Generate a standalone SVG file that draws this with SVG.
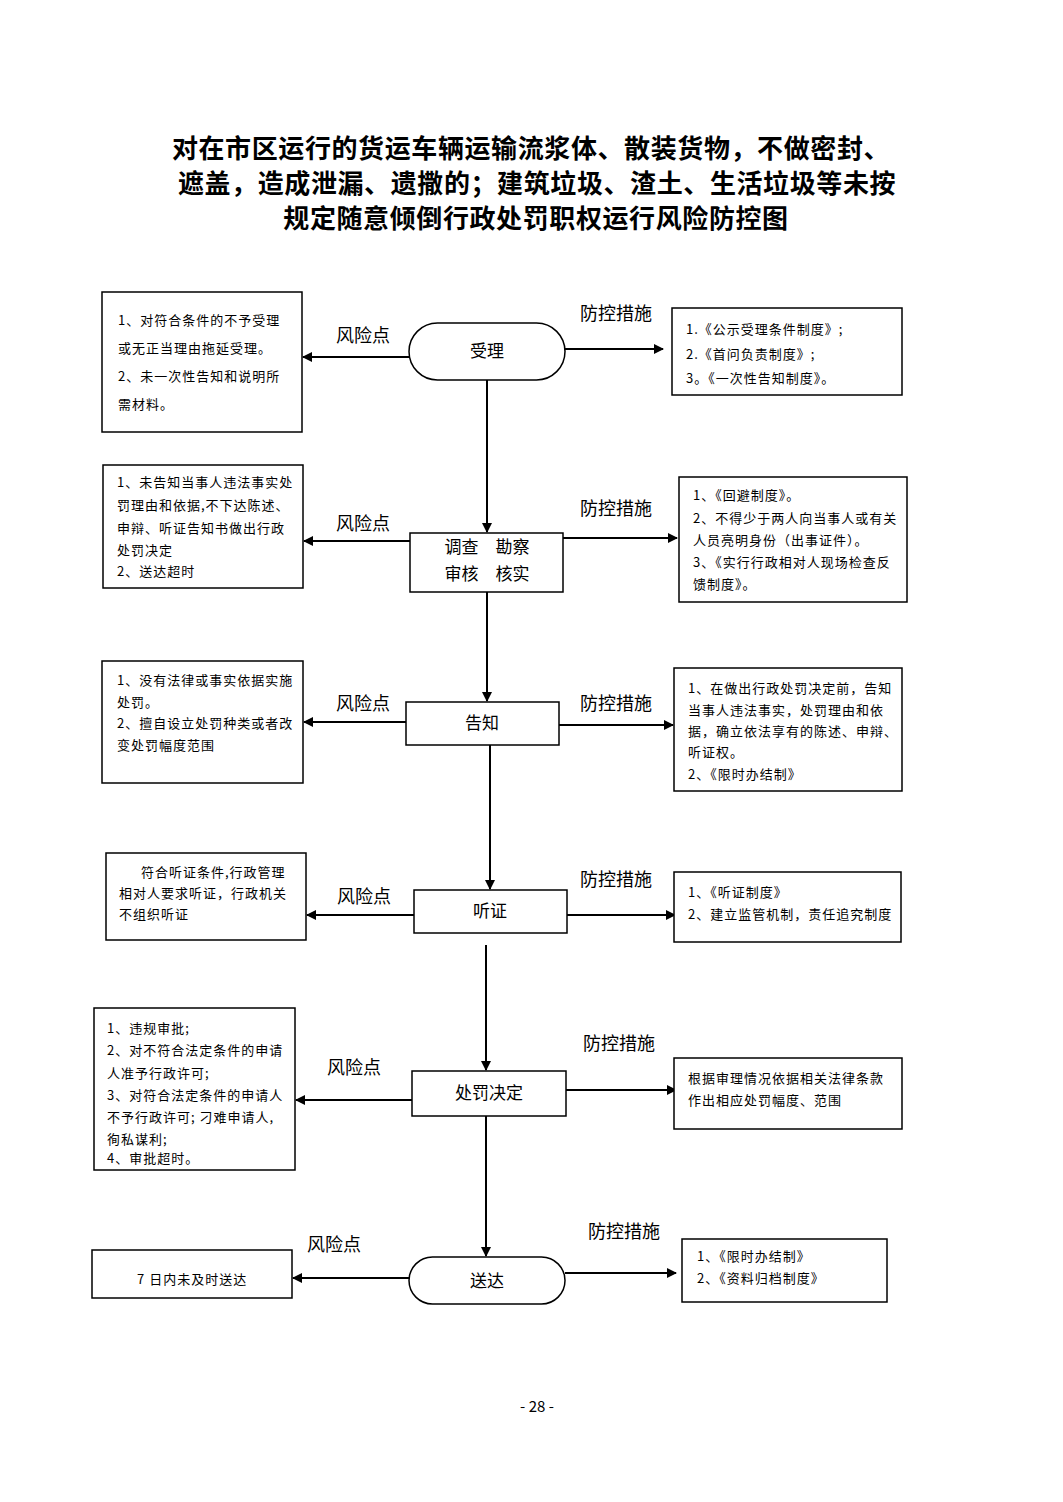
<svg xmlns="http://www.w3.org/2000/svg" width="1063" height="1502" viewBox="0 0 1063 1502">
<defs>
<marker id="ah" viewBox="0 0 10 10" refX="9" refY="5" markerWidth="10" markerHeight="10" markerUnits="userSpaceOnUse" orient="auto">
<path d="M0,0 L10,5 L0,10 z" fill="#000"/>
</marker>
<style>
.t{font-family:"Noto Sans CJK SC","Noto Sans",sans-serif;fill:#000}
.title{font-size:26px;font-weight:bold;text-anchor:middle;letter-spacing:0.6px}
.s{font-size:13px;letter-spacing:1px}
.lab{font-size:18px}
.nd{font-size:17px;text-anchor:middle}
.box{fill:#fff;stroke:#000;stroke-width:1.5}
.ln{stroke:#000;stroke-width:2;fill:none}
.arr{stroke:#000;stroke-width:2;fill:none;marker-end:url(#ah)}
</style>
</defs>
<rect width="1063" height="1502" fill="#fff"/>
<g id="title" class="t title">
<text x="531" y="158">对在市区运行的货运车辆运输流浆体、散装货物，不做密封、</text>
<text x="537" y="193">遮盖，造成泄漏、遗撒的；建筑垃圾、渣土、生活垃圾等未按</text>
<text x="536" y="228">规定随意倾倒行政处罚职权运行风险防控图</text>
</g>
<g id="connectors">
<line class="arr" x1="487" y1="380" x2="487" y2="532"/>
<line class="arr" x1="487" y1="592" x2="487" y2="701"/>
<line class="arr" x1="490" y1="745" x2="490" y2="889"/>
<line class="arr" x1="486" y1="945" x2="486" y2="1070"/>
<line class="arr" x1="486" y1="1116" x2="486" y2="1256"/>
<line class="arr" x1="409" y1="357" x2="303" y2="357"/>
<line class="arr" x1="565" y1="349" x2="663" y2="349"/>
<line class="arr" x1="410" y1="541" x2="304" y2="541"/>
<line class="arr" x1="563" y1="538" x2="677" y2="538"/>
<line class="arr" x1="406" y1="722" x2="304" y2="722"/>
<line class="arr" x1="559" y1="725" x2="673" y2="725"/>
<line class="arr" x1="414" y1="915" x2="307" y2="915"/>
<line class="arr" x1="567" y1="915" x2="675" y2="915"/>
<line class="arr" x1="412" y1="1100" x2="296" y2="1100"/>
<line class="arr" x1="566" y1="1090" x2="676" y2="1090"/>
<line class="arr" x1="409" y1="1278" x2="293" y2="1278"/>
<line class="arr" x1="565" y1="1273" x2="676" y2="1273"/>
</g>
<g id="labels" class="t lab">
<text x="336" y="342">风险点</text>
<text x="580" y="320">防控措施</text>
<text x="336" y="530">风险点</text>
<text x="580" y="515">防控措施</text>
<text x="336" y="710">风险点</text>
<text x="580" y="710">防控措施</text>
<text x="337" y="903">风险点</text>
<text x="580" y="886">防控措施</text>
<text x="327" y="1074">风险点</text>
<text x="583" y="1050">防控措施</text>
<text x="307" y="1251">风险点</text>
<text x="588" y="1238">防控措施</text>
</g>
<g id="n1">
<rect class="box" x="409" y="323" width="156" height="57" rx="28.5"/>
<text class="t nd" x="487" y="357">受理</text>
</g>
<g id="r1">
<rect class="box" x="102" y="292" width="200" height="140"/>
<text class="t s" x="118" y="325">1、对符合条件的不予受理</text>
<text class="t s" x="118" y="353">或无正当理由拖延受理。</text>
<text class="t s" x="118" y="381">2、未一次性告知和说明所</text>
<text class="t s" x="118" y="409">需材料。</text>
</g>
<g id="m1">
<rect class="box" x="672" y="308" width="230" height="87"/>
<text class="t s" x="686" y="334">1.《公示受理条件制度》;</text>
<text class="t s" x="686" y="359">2.《首问负责制度》;</text>
<text class="t s" x="686" y="383">3。《一次性告知制度》。</text>
</g>
<g id="n2">
<rect class="box" x="410" y="533" width="153" height="59"/>
<text class="t nd" x="487" y="553">调查　勘察</text>
<text class="t nd" x="487" y="580">审核　核实</text>
</g>
<g id="r2">
<rect class="box" x="103" y="465" width="200" height="123"/>
<text class="t s" x="117" y="487">1、未告知当事人违法事实处</text>
<text class="t s" x="117" y="510">罚理由和依据,不下达陈述、</text>
<text class="t s" x="117" y="533">申辩、听证告知书做出行政</text>
<text class="t s" x="117" y="555">处罚决定</text>
<text class="t s" x="117" y="576">2、送达超时</text>
</g>
<g id="m2">
<rect class="box" x="679" y="477" width="228" height="125"/>
<text class="t s" x="693" y="500">1、《回避制度》。</text>
<text class="t s" x="693" y="523">2、不得少于两人向当事人或有关</text>
<text class="t s" x="693" y="545">人员亮明身份（出事证件）。</text>
<text class="t s" x="693" y="567">3、《实行行政相对人现场检查反</text>
<text class="t s" x="693" y="589">馈制度》。</text>
</g>
<g id="n3">
<rect class="box" x="406" y="702" width="153" height="43"/>
<text class="t nd" x="482" y="729">告知</text>
</g>
<g id="r3">
<rect class="box" x="102" y="661" width="201" height="122"/>
<text class="t s" x="117" y="685">1、没有法律或事实依据实施</text>
<text class="t s" x="117" y="707">处罚。</text>
<text class="t s" x="117" y="728">2、擅自设立处罚种类或者改</text>
<text class="t s" x="117" y="750">变处罚幅度范围</text>
</g>
<g id="m3">
<rect class="box" x="674" y="668" width="228" height="123"/>
<text class="t s" x="688" y="693">1、在做出行政处罚决定前，告知</text>
<text class="t s" x="688" y="715">当事人违法事实，处罚理由和依</text>
<text class="t s" x="688" y="736">据，确立依法享有的陈述、申辩、</text>
<text class="t s" x="688" y="757">听证权。</text>
<text class="t s" x="688" y="779">2、《限时办结制》</text>
</g>
<g id="n4">
<rect class="box" x="414" y="890" width="153" height="43"/>
<text class="t nd" x="490" y="917">听证</text>
</g>
<g id="r4">
<rect class="box" x="106" y="853" width="200" height="87"/>
<text class="t s" x="141" y="877">符合听证条件,行政管理</text>
<text class="t s" x="119" y="898">相对人要求听证，行政机关</text>
<text class="t s" x="119" y="919">不组织听证</text>
</g>
<g id="m4">
<rect class="box" x="674" y="872" width="227" height="70"/>
<text class="t s" x="688" y="897">1、《听证制度》</text>
<text class="t s" x="688" y="919">2、建立监管机制，责任追究制度</text>
</g>
<g id="n5">
<rect class="box" x="412" y="1071" width="154" height="45"/>
<text class="t nd" x="489" y="1099">处罚决定</text>
</g>
<g id="r5">
<rect class="box" x="94" y="1008" width="201" height="162"/>
<text class="t s" x="107" y="1033">1、违规审批;</text>
<text class="t s" x="107" y="1055">2、对不符合法定条件的申请</text>
<text class="t s" x="107" y="1078">人准予行政许可;</text>
<text class="t s" x="107" y="1100">3、对符合法定条件的申请人</text>
<text class="t s" x="107" y="1122">不予行政许可; 刁难申请人,</text>
<text class="t s" x="107" y="1144">徇私谋利;</text>
<text class="t s" x="107" y="1163">4、审批超时。</text>
</g>
<g id="m5">
<rect class="box" x="674" y="1058" width="228" height="71"/>
<text class="t s" x="688" y="1083">根据审理情况依据相关法律条款</text>
<text class="t s" x="688" y="1105">作出相应处罚幅度、范围</text>
</g>
<g id="n6">
<rect class="box" x="409" y="1257" width="156" height="47" rx="23.5"/>
<text class="t nd" x="487" y="1287">送达</text>
</g>
<g id="r6">
<rect class="box" x="92" y="1250" width="200" height="48"/>
<text class="t s" x="137" y="1284">7 日内未及时送达</text>
</g>
<g id="m6">
<rect class="box" x="682" y="1239" width="205" height="63"/>
<text class="t s" x="697" y="1261">1、《限时办结制》</text>
<text class="t s" x="697" y="1283">2、《资料归档制度》</text>
</g>
<text class="t" x="537" y="1412" font-size="15" text-anchor="middle">- 28 -</text>
</svg>
